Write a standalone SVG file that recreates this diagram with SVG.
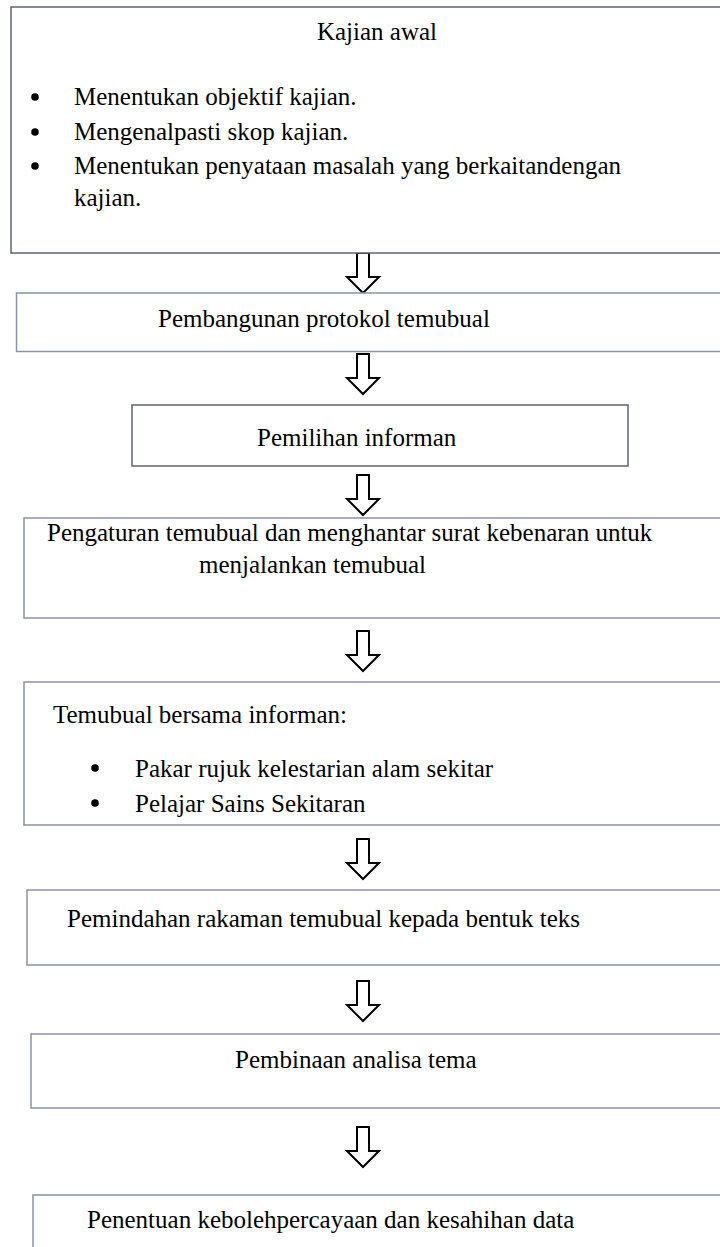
<svg xmlns="http://www.w3.org/2000/svg" xmlns:xlink="http://www.w3.org/1999/xlink" width="720" height="1247" viewBox="0 0 720 1247">
<style>
.box{fill:#fff;stroke:#8a93a5;stroke-width:1.5}
.box1{fill:#fff;stroke:#5f6570;stroke-width:1.5}
.t{font-family:"Liberation Serif","Times New Roman",serif;font-size:25px;fill:#000}
.arrow{fill:#fff;stroke:#000;stroke-width:2;stroke-linejoin:miter}
.dot{fill:#000}
</style>
<defs>
<path id="arr" class="arrow" d="M-6,0 L6,0 L6,24 L16,24 L0,40 L-16,24 L-6,24 Z"/>
</defs>
<rect width="720" height="1247" fill="#fff"/>

<g id="connectors">
<use xlink:href="#arr" href="#arr" transform="translate(363,253)"/>
<use xlink:href="#arr" href="#arr" transform="translate(363,354)"/>
<use xlink:href="#arr" href="#arr" transform="translate(363,475)"/>
<use xlink:href="#arr" href="#arr" transform="translate(363,631)"/>
<use xlink:href="#arr" href="#arr" transform="translate(363,839)"/>
<use xlink:href="#arr" href="#arr" transform="translate(363,981)"/>
<use xlink:href="#arr" href="#arr" transform="translate(363,1127)"/>
</g>

<g id="node-kajian-awal">
<rect class="box1" x="11" y="7" width="730" height="246"/>
<text class="t" x="377" y="40" text-anchor="middle">Kajian awal</text>
<circle class="dot" cx="35" cy="97" r="3.8"/>
<text class="t" x="74" y="105">Menentukan objektif kajian.</text>
<circle class="dot" cx="35" cy="132" r="3.8"/>
<text class="t" x="74" y="140">Mengenalpasti skop kajian.</text>
<circle class="dot" cx="35" cy="166" r="3.8"/>
<text class="t" x="74" y="174">Menentukan penyataan masalah yang berkaitandengan</text>
<text class="t" x="74" y="206">kajian.</text>
</g>

<g id="node-protokol">
<rect class="box" x="16.5" y="293" width="730" height="58.5"/>
<text class="t" x="158" y="327">Pembangunan protokol temubual</text>
</g>

<g id="node-pemilihan">
<rect class="box1" x="132" y="405" width="496" height="61"/>
<text class="t" x="257" y="446">Pemilihan informan</text>
</g>

<g id="node-pengaturan">
<rect class="box" x="24" y="518" width="730" height="100"/>
<text class="t" x="47" y="541">Pengaturan temubual dan menghantar surat kebenaran untuk</text>
<text class="t" x="199" y="573">menjalankan temubual</text>
</g>

<g id="node-temubual">
<rect class="box" x="24" y="682" width="730" height="143"/>
<text class="t" x="53" y="723">Temubual bersama informan:</text>
<circle class="dot" cx="95" cy="768" r="3.8"/>
<text class="t" x="135" y="777">Pakar rujuk kelestarian alam sekitar</text>
<circle class="dot" cx="95" cy="803" r="3.8"/>
<text class="t" x="135" y="812">Pelajar Sains Sekitaran</text>
</g>

<g id="node-pemindahan">
<rect class="box" x="27" y="890" width="730" height="75"/>
<text class="t" x="67" y="927">Pemindahan rakaman temubual kepada bentuk teks</text>
</g>

<g id="node-pembinaan">
<rect class="box" x="31" y="1034" width="730" height="74"/>
<text class="t" x="235" y="1068">Pembinaan analisa tema</text>
</g>

<g id="node-penentuan">
<rect class="box" x="33" y="1195" width="730" height="80"/>
<text class="t" x="87" y="1228">Penentuan kebolehpercayaan dan kesahihan data</text>
</g>
</svg>
